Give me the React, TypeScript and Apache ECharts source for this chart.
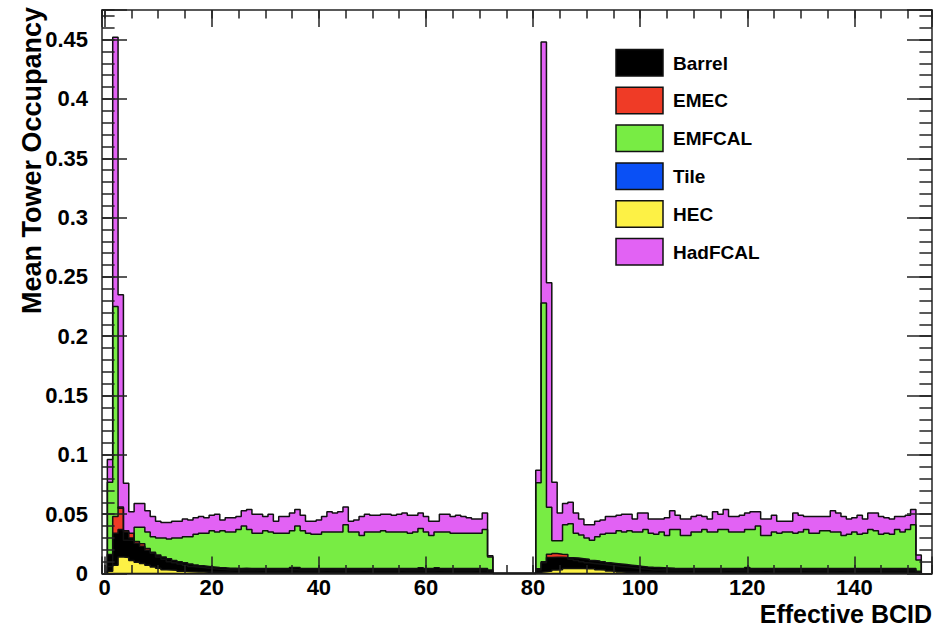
import React, { useEffect, useRef } from "react";
import * as echarts from "echarts";

// Bunch-train histograms: two trains of 72 bins each, starting at BCID 1 and BCID 81.
const firstBinA = 1;
const firstBinB = 81;

// HadFCAL, bins 1-72
const hadfcalA = [
  0.096, 0.452, 0.235, 0.076, 0.052, 0.059, 0.059, 0.053, 0.048, 0.044,
  0.043, 0.043, 0.044, 0.044, 0.046, 0.045, 0.047, 0.048, 0.047, 0.049,
  0.050, 0.045, 0.047, 0.047, 0.048, 0.053, 0.054, 0.050, 0.050, 0.048,
  0.050, 0.044, 0.048, 0.048, 0.051, 0.054, 0.049, 0.044, 0.044, 0.045,
  0.048, 0.052, 0.051, 0.052, 0.056, 0.044, 0.045, 0.048, 0.050, 0.049,
  0.049, 0.050, 0.050, 0.049, 0.050, 0.051, 0.049, 0.049, 0.051, 0.048,
  0.044, 0.044, 0.050, 0.050, 0.048, 0.049, 0.048, 0.047, 0.046, 0.046,
  0.051, 0.015,
];
// HadFCAL, bins 81-152
const hadfcalB = [
  0.087, 0.448, 0.245, 0.077, 0.051, 0.059, 0.060, 0.051, 0.046, 0.041,
  0.041, 0.044, 0.045, 0.048, 0.048, 0.049, 0.050, 0.050, 0.046, 0.051,
  0.051, 0.046, 0.046, 0.046, 0.047, 0.053, 0.049, 0.046, 0.046, 0.048,
  0.049, 0.048, 0.046, 0.052, 0.050, 0.054, 0.048, 0.048, 0.049, 0.051,
  0.052, 0.052, 0.046, 0.046, 0.049, 0.044, 0.044, 0.044, 0.051, 0.049,
  0.048, 0.048, 0.048, 0.048, 0.048, 0.053, 0.051, 0.048, 0.046, 0.047,
  0.049, 0.046, 0.051, 0.051, 0.048, 0.047, 0.046, 0.048, 0.048, 0.049,
  0.054, 0.0156,
];

// EMFCAL
const emfcalA = [
  0.077, 0.225, 0.055, 0.028, 0.028, 0.039, 0.039, 0.035, 0.031, 0.030,
  0.030, 0.029, 0.030, 0.030, 0.031, 0.031, 0.033, 0.034, 0.034, 0.036,
  0.035, 0.036, 0.035, 0.035, 0.037, 0.040, 0.037, 0.034, 0.034, 0.036,
  0.035, 0.034, 0.034, 0.034, 0.036, 0.040, 0.036, 0.034, 0.033, 0.033,
  0.035, 0.035, 0.035, 0.035, 0.041, 0.035, 0.035, 0.032, 0.035, 0.035,
  0.035, 0.036, 0.035, 0.035, 0.035, 0.035, 0.034, 0.035, 0.038, 0.035,
  0.032, 0.035, 0.035, 0.035, 0.034, 0.034, 0.034, 0.034, 0.034, 0.034,
  0.037, 0.014,
];
const emfcalB = [
  0.0766, 0.228, 0.0558, 0.0277, 0.0277, 0.041, 0.042, 0.034, 0.0325, 0.030,
  0.028, 0.031, 0.033, 0.034, 0.034, 0.036, 0.035, 0.036, 0.035, 0.035,
  0.037, 0.034, 0.033, 0.035, 0.032, 0.037, 0.037, 0.032, 0.032, 0.035,
  0.035, 0.037, 0.035, 0.035, 0.037, 0.037, 0.035, 0.035, 0.035, 0.037,
  0.037, 0.040, 0.032, 0.032, 0.035, 0.034, 0.035, 0.035, 0.034, 0.035,
  0.037, 0.034, 0.034, 0.036, 0.036, 0.035, 0.035, 0.032, 0.033, 0.035,
  0.033, 0.034, 0.037, 0.036, 0.033, 0.034, 0.033, 0.037, 0.035, 0.037,
  0.041, 0.0114,
];

// EMEC
const emecA = [
  0.006, 0.048, 0.056, 0.036, 0.034, 0.027, 0.025, 0.021, 0.017, 0.014,
  0.012, 0.010, 0.009, 0.008, 0.007, 0.006, 0.0055, 0.005, 0.0045, 0.004,
  0.0035, 0.0033, 0.003, 0.003, 0.0032, 0.003, 0.0031, 0.003, 0.0029, 0.003,
  0.003, 0.0031, 0.003, 0.0032, 0.0033, 0.003, 0.0029, 0.003, 0.003, 0.0031,
  0.003, 0.003, 0.0032, 0.003, 0.0029, 0.003, 0.003, 0.0031, 0.003, 0.003,
  0.003, 0.0029, 0.003, 0.003, 0.0031, 0.003, 0.0032, 0.003, 0.003, 0.003,
  0.0029, 0.003, 0.003, 0.0031, 0.003, 0.003, 0.003, 0.0029, 0.003, 0.003,
  0.003, 0.001,
];
const emecB = [
  0.003, 0.009, 0.0162, 0.0168, 0.0163, 0.016, 0.012, 0.011, 0.010, 0.009,
  0.0085, 0.008, 0.0075, 0.007, 0.0065, 0.006, 0.0055, 0.005, 0.0045, 0.004,
  0.0035, 0.003, 0.003, 0.0031, 0.003, 0.003, 0.0029, 0.003, 0.003, 0.0031,
  0.003, 0.003, 0.0029, 0.003, 0.003, 0.0031, 0.003, 0.003, 0.003, 0.0032,
  0.003, 0.003, 0.0029, 0.003, 0.003, 0.0031, 0.003, 0.003, 0.003, 0.0029,
  0.003, 0.003, 0.0031, 0.003, 0.003, 0.003, 0.0029, 0.003, 0.003, 0.0031,
  0.003, 0.003, 0.003, 0.0029, 0.003, 0.003, 0.0031, 0.003, 0.003, 0.003,
  0.003, 0.001,
];

// Barrel
const barrelA = [
  0.016, 0.034, 0.037, 0.035, 0.030, 0.0255, 0.023, 0.0196, 0.018, 0.0155,
  0.014, 0.0125, 0.011, 0.0098, 0.009, 0.008, 0.0072, 0.0065, 0.006, 0.0055,
  0.005, 0.0048, 0.0045, 0.0044, 0.0043, 0.0044, 0.0042, 0.0043, 0.0042, 0.0043,
  0.0042, 0.0043, 0.0042, 0.0043, 0.005, 0.005, 0.0043, 0.0042, 0.0042, 0.0043,
  0.0042, 0.0043, 0.0042, 0.0042, 0.0043, 0.0042, 0.0042, 0.0043, 0.0042, 0.0042,
  0.0043, 0.0042, 0.0042, 0.0043, 0.0042, 0.0042, 0.0043, 0.0042, 0.0048, 0.0042,
  0.0042, 0.0048, 0.0042, 0.0043, 0.0042, 0.0042, 0.0043, 0.0042, 0.0042, 0.0043,
  0.0042, 0.003,
];
const barrelB = [
  0.004, 0.010, 0.0135, 0.0138, 0.0138, 0.0135, 0.0133, 0.013, 0.0125, 0.012,
  0.011, 0.0105, 0.0098, 0.009, 0.0085, 0.008, 0.0075, 0.007, 0.0065, 0.006,
  0.0055, 0.0052, 0.005, 0.0048, 0.0046, 0.0044, 0.0043, 0.0043, 0.0042, 0.0043,
  0.0042, 0.0043, 0.0042, 0.0042, 0.0043, 0.0042, 0.0042, 0.0043, 0.0042, 0.005,
  0.0043, 0.0042, 0.0042, 0.0043, 0.0042, 0.0042, 0.0043, 0.0042, 0.0042, 0.0043,
  0.0042, 0.0042, 0.0043, 0.0042, 0.0042, 0.0043, 0.0042, 0.0042, 0.0043, 0.0042,
  0.0042, 0.0043, 0.0042, 0.0042, 0.0043, 0.0042, 0.0042, 0.0043, 0.0042, 0.0042,
  0.0042, 0.002,
];

// HEC
const hecA = [
  0.002, 0.007, 0.014, 0.0135, 0.011, 0.0095, 0.0085, 0.007, 0.0055, 0.0045,
  0.0032, 0.003, 0.0028, 0.002, 0.0016, 0.0014, 0.0012, 0.0012, 0.0011, 0.0011,
  0.001, 0.001, 0.001, 0.0009, 0.001, 0.001, 0.001, 0.001, 0.0009, 0.001,
  0.001, 0.001, 0.001, 0.001, 0.0009, 0.001, 0.001, 0.001, 0.001, 0.001,
  0.0009, 0.001, 0.001, 0.001, 0.001, 0.001, 0.001, 0.0009, 0.001, 0.001,
  0.001, 0.001, 0.001, 0.001, 0.0009, 0.001, 0.001, 0.001, 0.001, 0.001,
  0.001, 0.0009, 0.001, 0.001, 0.001, 0.001, 0.001, 0.001, 0.0009, 0.001,
  0.001, 0.0008,
];
const hecB = [
  0.001, 0.0015, 0.002, 0.003, 0.0032, 0.0042, 0.0043, 0.0043, 0.0042, 0.004,
  0.004, 0.0032, 0.003, 0.0022, 0.0018, 0.0012, 0.0011, 0.001, 0.001, 0.001,
  0.001, 0.001, 0.0009, 0.001, 0.001, 0.001, 0.001, 0.001, 0.0009, 0.001,
  0.001, 0.001, 0.001, 0.001, 0.001, 0.0009, 0.001, 0.001, 0.001, 0.001,
  0.001, 0.001, 0.0009, 0.001, 0.001, 0.001, 0.001, 0.001, 0.001, 0.0009,
  0.001, 0.001, 0.001, 0.001, 0.001, 0.001, 0.0009, 0.001, 0.001, 0.001,
  0.001, 0.001, 0.001, 0.0009, 0.001, 0.001, 0.001, 0.001, 0.001, 0.001,
  0.001, 0.0008,
];

// Tile: nothing above zero in either train
const tileA = [
  0, 0, 0, 0, 0, 0, 0, 0, 0, 0, 0, 0, 0, 0, 0, 0, 0, 0, 0, 0, 0, 0, 0, 0,
  0, 0, 0, 0, 0, 0, 0, 0, 0, 0, 0, 0, 0, 0, 0, 0, 0, 0, 0, 0, 0, 0, 0, 0,
  0, 0, 0, 0, 0, 0, 0, 0, 0, 0, 0, 0, 0, 0, 0, 0, 0, 0, 0, 0, 0, 0, 0, 0,
];
const tileB = [
  0, 0, 0, 0, 0, 0, 0, 0, 0, 0, 0, 0, 0, 0, 0, 0, 0, 0, 0, 0, 0, 0, 0, 0,
  0, 0, 0, 0, 0, 0, 0, 0, 0, 0, 0, 0, 0, 0, 0, 0, 0, 0, 0, 0, 0, 0, 0, 0,
  0, 0, 0, 0, 0, 0, 0, 0, 0, 0, 0, 0, 0, 0, 0, 0, 0, 0, 0, 0, 0, 0, 0, 0,
];

const legendOrder = ["Barrel", "EMEC", "EMFCAL", "Tile", "HEC", "HadFCAL"];
// back-to-front drawing order of the overlaid histograms
const drawOrder = ["HadFCAL", "EMFCAL", "EMEC", "Tile", "Barrel", "HEC"];

const fills: Record<string, string> = {
  Barrel: "#000000",
  EMEC: "#ef3b26",
  EMFCAL: "#78ec44",
  Tile: "#0a50f5",
  HEC: "#fdf145",
  HadFCAL: "#e262f4",
};

const values: Record<string, number[][]> = {
  Barrel: [barrelA, barrelB],
  EMEC: [emecA, emecB],
  EMFCAL: [emfcalA, emfcalB],
  Tile: [tileA, tileB],
  HEC: [hecA, hecB],
  HadFCAL: [hadfcalA, hadfcalB],
};

const FONT = '"Liberation Sans", Arial, Helvetica, sans-serif';
const INK = "#222";

// Turn per-bin contents into bin-edge points for an 'end' step line.
function histPoints(blocks: number[][]): [number, number][] {
  const starts = [firstBinA, firstBinB];
  const pts: [number, number][] = [];
  blocks.forEach((vals, b) => {
    const first = starts[b];
    pts.push([first - 0.5, 0]);
    vals.forEach((v, i) => pts.push([first + i - 0.5, v]));
    pts.push([first + vals.length - 0.5, 0]);
  });
  return pts;
}

const tickStyle = { color: INK, width: 1.5 };

function xAxisDef(position: "top" | "bottom", step: number, len: number, main: boolean, labels: boolean) {
  return {
    type: "value",
    min: -0.5,
    max: 154.5,
    position,
    minInterval: step,
    maxInterval: step,
    z: 10,
    axisLine: { show: main, onZero: false, lineStyle: tickStyle },
    axisTick: { show: true, inside: true, length: len, lineStyle: tickStyle },
    axisLabel: {
      show: labels,
      margin: 3,
      fontSize: 22,
      fontWeight: "bold",
      fontFamily: FONT,
      color: "#000",
      formatter: (v: number) =>
        Math.abs(v - Math.round(v)) < 1e-6 && Math.round(v) % 20 === 0 ? String(Math.round(v)) : "",
    },
    splitLine: { show: false },
  };
}

function yAxisDef(position: "left" | "right", step: number, len: number, main: boolean, labels: boolean) {
  return {
    type: "value",
    min: 0,
    max: 0.475,
    interval: step,
    position,
    z: 10,
    axisLine: { show: main, onZero: false, lineStyle: tickStyle },
    axisTick: { show: true, inside: true, length: len, lineStyle: tickStyle },
    axisLabel: {
      show: labels,
      margin: 14,
      fontSize: 22,
      fontWeight: "bold",
      fontFamily: FONT,
      color: "#000",
      formatter: (v: number) => (v > 0.46 ? "" : String(Number(v.toFixed(3)))),
    },
    splitLine: { show: false },
  };
}

function buildOption() {
  const series = drawOrder.map((name) => ({
    name,
    type: "line",
    xAxisIndex: 0,
    yAxisIndex: 0,
    step: "end",
    symbol: "none",
    silent: true,
    data: histPoints(values[name]),
    lineStyle: { color: "#111", width: 1.5 },
    areaStyle: { color: fills[name], opacity: 1 },
    itemStyle: { color: fills[name] },
  }));

  const legendGraphics: any[] = [];
  legendOrder.forEach((name, i) => {
    const top = 49.5 + i * 37.8;
    legendGraphics.push({
      type: "rect",
      z: 20,
      shape: { x: 616, y: top, width: 47, height: 26.5 },
      style: { fill: fills[name], stroke: "#111", lineWidth: 1.5 },
    });
    legendGraphics.push({
      type: "text",
      z: 20,
      x: 673,
      y: top + 13.5,
      style: {
        text: name,
        fill: "#000",
        font: `bold 19px ${FONT}`,
        textAlign: "left",
        textVerticalAlign: "middle",
        align: "left",
        verticalAlign: "middle",
      },
    });
  });

  return {
    animation: false,
    backgroundColor: "#fff",
    grid: { left: 102, top: 10, right: 3, bottom: 58.5, containLabel: false, outerBoundsMode: "none" },
    xAxis: [
      xAxisDef("bottom", 20, 17, true, true),
      xAxisDef("bottom", 5, 8.5, false, false),
      xAxisDef("top", 20, 17, true, false),
      xAxisDef("top", 5, 8.5, false, false),
    ],
    yAxis: [
      yAxisDef("left", 0.05, 25, true, true),
      yAxisDef("left", 0.01, 12.6, false, false),
      yAxisDef("right", 0.05, 25, true, false),
      yAxisDef("right", 0.01, 12.6, false, false),
    ],
    series,
    graphic: [
      ...legendGraphics,
      {
        type: "text",
        z: 20,
        x: 31.5,
        y: 7,
        rotation: Math.PI / 2,
        style: {
          text: "Mean Tower Occupancy",
          fill: "#000",
          font: `bold 27px ${FONT}`,
          textAlign: "right",
          textVerticalAlign: "middle",
          align: "right",
          verticalAlign: "middle",
        },
      },
      {
        type: "text",
        z: 20,
        x: 932,
        y: 614,
        style: {
          text: "Effective BCID",
          fill: "#000",
          font: `bold 25px ${FONT}`,
          textAlign: "right",
          textVerticalAlign: "middle",
          align: "right",
          verticalAlign: "middle",
        },
      },
    ],
  };
}

export default function App() {
  const ref = useRef<HTMLDivElement>(null);
  useEffect(() => {
    if (!ref.current) return;
    const chart = echarts.init(ref.current, undefined, { renderer: "svg" });
    chart.setOption(buildOption() as any);
    return () => chart.dispose();
  }, []);
  return (
    <div
      ref={ref}
      style={{ position: "fixed", left: 0, top: 0, width: 935, height: 632, background: "#fff" }}
    />
  );
}
